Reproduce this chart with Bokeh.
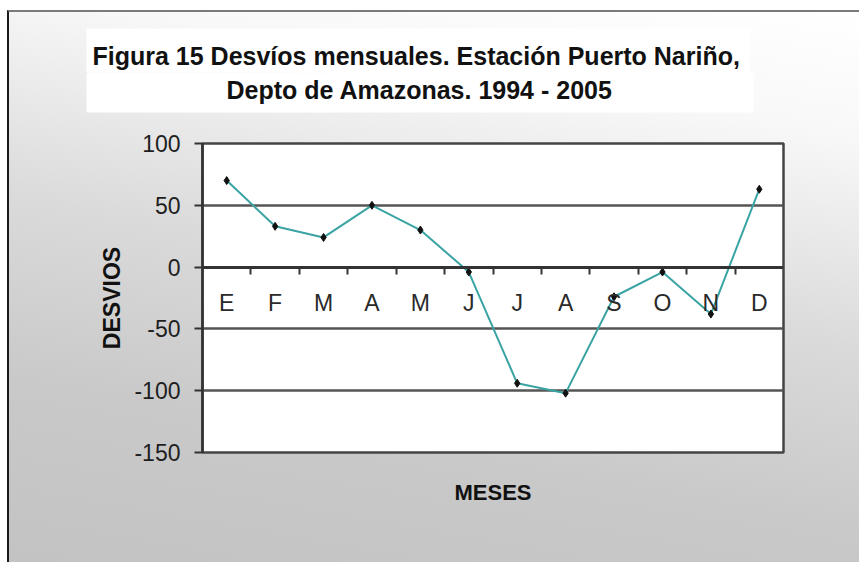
from bokeh.plotting import figure
from bokeh.models import Range1d, LinearAxis, FixedTicker, Title, InlineStyleSheet
from bokeh.embed import file_html
from bokeh.resources import INLINE

# ---- data ----
titulo_1 = "Figura 15 Desvíos mensuales. Estación Puerto Nariño,"
titulo_2 = "Depto de Amazonas. 1994 - 2005"
meses = ["E", "F", "M", "A", "M", "J", "J", "A", "S", "O", "N", "D"]
desvios = [70, 33, 24, 50, 30, -4, -94, -102, -24, -4, -38, 63]
y_ticks = [-150, -100, -50, 0, 50, 100]
eje_x = "MESES"
eje_y = "DESVIOS"

n = len(meses)
x_pos = [i + 0.5 for i in range(n)]          # month centres
limites = [i for i in range(1, n)]           # boundaries between months

p = figure(width=859, height=562, output_backend="svg", toolbar_location=None,
           x_range=Range1d(0, n), y_range=Range1d(y_ticks[0], y_ticks[-1]),
           x_axis_location=None, y_axis_location="left",
           min_border_left=202, min_border_right=76,
           min_border_top=143, min_border_bottom=110)

p.border_fill_color = None
p.background_fill_color = "white"
p.outline_line_color = "#444444"
p.outline_line_width = 2.5

css = InlineStyleSheet(css="""
:host { position: relative; background: #ffffff; }
:host::before {
  content: ""; position: absolute; left: 7px; top: 10px; right: 0; bottom: 0;
  background: linear-gradient(190deg, #ffffff 0%, #f8f8f8 18%, #dadada 48%, #c9c9c9 74%, #c3c3c3 100%);
  border-top: 2px solid #7a7a7a; border-left: 2px solid #1a1a1a; box-sizing: border-box;
}
""")
p.stylesheets = [css]

# y axis
yax = p.yaxis[0]
yax.ticker = FixedTicker(ticks=y_ticks)
yax.major_label_overrides = {v: str(v) for v in y_ticks}
yax.axis_line_color = "#333333"
yax.axis_line_width = 2.5
yax.major_tick_out = 8
yax.major_tick_in = 0
yax.major_tick_line_color = "#333333"
yax.major_tick_line_width = 2
yax.minor_tick_line_color = None
yax.major_label_standoff = 14
yax.major_label_text_font = "Liberation Sans"
yax.major_label_text_font_size = "23px"
yax.major_label_text_color = "#1e1e1e"
yax.axis_label = eje_y
yax.axis_label_text_font = "Liberation Sans"
yax.axis_label_text_font_style = "bold"
yax.axis_label_text_font_size = "23px"
yax.axis_label_text_color = "#111111"
yax.axis_label_standoff = 6

for g in p.grid:
    if g.dimension == 0:
        g.visible = False
    else:
        g.ticker = FixedTicker(ticks=y_ticks)
        g.grid_line_color = "#555555"
        g.grid_line_width = 2.5

# x axis title (bottom)
ax_title = LinearAxis(ticker=FixedTicker(ticks=[]), axis_label=eje_x,
                      axis_line_color=None, major_tick_out=0, major_tick_in=0,
                      minor_tick_out=0, minor_tick_in=0, major_label_standoff=0,
                      axis_label_standoff=27,
                      axis_label_text_font="Liberation Sans",
                      axis_label_text_font_style="bold",
                      axis_label_text_font_size="22px",
                      axis_label_text_color="#111111")
p.add_layout(ax_title, "below")

# month axis crossing at y = 0
ax_x = LinearAxis(ticker=FixedTicker(ticks=x_pos, minor_ticks=limites),
                  fixed_location=0,
                  major_label_overrides={x: m for x, m in zip(x_pos, meses)},
                  major_tick_out=0, major_tick_in=0,
                  minor_tick_out=7, minor_tick_in=0,
                  minor_tick_line_color="#333333", minor_tick_line_width=2,
                  axis_line_color="#333333", axis_line_width=3,
                  major_label_standoff=16,
                  major_label_text_font="Liberation Sans",
                  major_label_text_font_size="23px",
                  major_label_text_color="#2a2a2a")
p.add_layout(ax_x, "below")

# series
p.line(x_pos, desvios, line_color="#3aa3a3", line_width=2)
p.scatter(x_pos, desvios, marker="diamond", size=8, color="#111111")

# title: gap above the frame, then line 2, then line 1 (white box behind)
# padding order here: (left, right, top, bottom)
gap = Title(text=" ", standoff=29, text_font_size="1px")
p.add_layout(gap, "above")

t2 = Title(text=titulo_2, align="left", offset=-115, standoff=0,
           vertical_align="bottom",
           text_font="Liberation Sans", text_font_style="bold",
           text_font_size="25px", text_color="#111111",
           background_fill_color="white", border_line_color="white",
           border_line_width=2, padding=(139, 140, 2, 8))
p.add_layout(t2, "above")
t1 = Title(text=titulo_1, align="left", offset=-115, standoff=0,
           vertical_align="bottom",
           text_font="Liberation Sans", text_font_style="bold",
           text_font_size="25px", text_color="#111111",
           background_fill_color="white", border_line_color="white",
           border_line_width=2, padding=(5, 9, 12, 2))
p.add_layout(t1, "above")

open("out.html", "w").write(file_html(p, INLINE))
